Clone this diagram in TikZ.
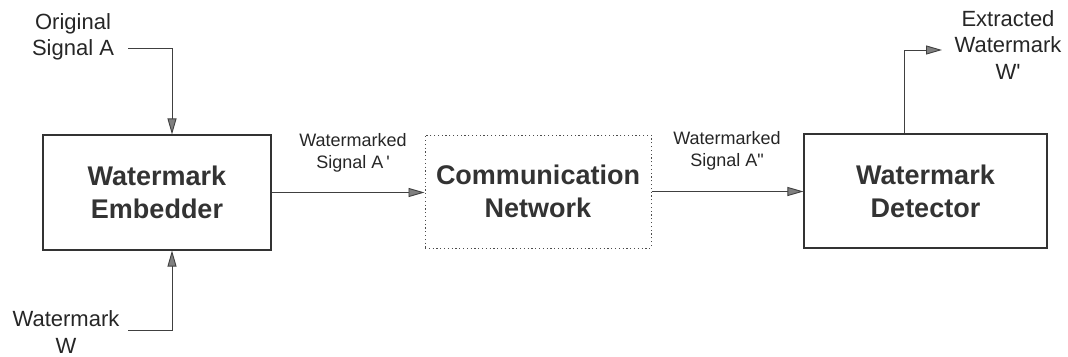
\documentclass[tikz,border=0pt]{standalone}
\usepackage{fontspec}
\setmainfont{Liberation Sans}
\usetikzlibrary{arrows.meta}
\begin{document}
\begin{tikzpicture}[x=1pt,y=-1pt,
  block/.style={draw=black!80, line width=1.1pt, align=center, inner sep=0pt,
    font=\fontsize{27}{33}\selectfont\bfseries, text=black!80},
  lbl/.style={align=center, inner sep=0pt, font=\fontsize{22}{26.5}\selectfont, text=black!85},
  sml/.style={align=center, inner sep=0pt, font=\fontsize{18}{22.5}\selectfont, text=black!85},
  wire/.style={draw=black!75, line width=0.9pt},
  arr/.style={wire, -{Triangle[length=16pt,width=9pt,fill=black!50]}}]
\useasboundingbox (0,0) rectangle (1068,356);

% processing blocks
\node[block, minimum width=228pt, minimum height=115pt] (emb) at (157,192.5) {Watermark\\Embedder};
\node[block, draw=black!70, line width=1pt, dash pattern=on 1.2pt off 2.6pt,
  minimum width=226pt, minimum height=113pt] (net) at (538,191.5) {Communication\\Network};
\node[block, minimum width=243pt, minimum height=114pt] (det) at (925.5,191) {Watermark\\Detector};

% input / output labels
\node[lbl] (orig) at (73,37) {Original\\Signal A};
\node[lbl] (wm) at (66,332) {Watermark\\W};
\node[lbl] (ext) at (1008,45) {Extracted\\Watermark\\W\textquotesingle};
\node[sml] (la1) at (353,153) {Watermarked\\Signal A\,\textquotesingle};
\node[sml] (la2) at (727,151) {Watermarked\\Signal A\textquotedbl};

% connectors
\coordinate (a0) at (128,48);
\coordinate (w0) at (128,330);
\coordinate (x0) at (942,50);
\draw[arr] (a0) -| ([xshift=15pt]emb.north);
\draw[arr] (w0) -| ([xshift=15pt]emb.south);
\draw[arr] (emb.east) -- (emb.east -| net.west);
\draw[arr] (net.east) -- (net.east -| det.west);
\draw[arr] ([xshift=-21.5pt]det.north) |- (x0);
\end{tikzpicture}
\end{document}
